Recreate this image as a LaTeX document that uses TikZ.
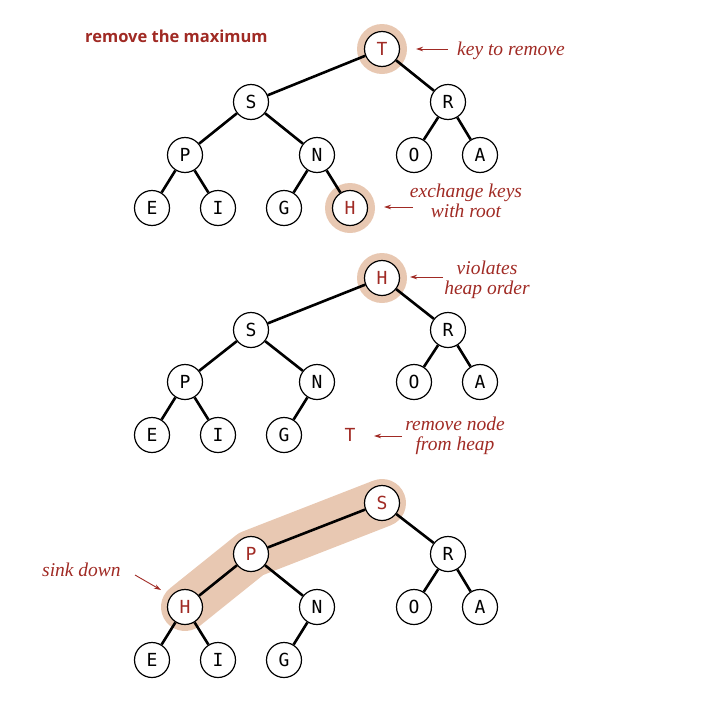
\documentclass[tikz,border=0pt]{standalone}
\usepackage{fontspec}
\newfontfamily\keyfont{DejaVu Sans Mono}
\newfontfamily\headfont{Open Sans}
\newfontfamily\notefont{Liberation Serif}
\usetikzlibrary{arrows.meta,backgrounds}
\definecolor{keyred}{RGB}{160,42,36}
\definecolor{halotan}{RGB}{232,200,178}
\tikzset{
  keynode/.style={circle,draw,line width=1.2pt,fill=white,minimum size=35pt,inner sep=0pt,
    font=\keyfont\fontsize{18}{18}\selectfont},
  hotkey/.style={keynode,text=keyred},
  edge/.style={line width=2.6pt},
  halo/.style={fill=halotan},
  band/.style={draw=halotan,line width=48pt,line cap=round,line join=round},
  note/.style={draw=keyred,line width=0.9pt,-{Stealth[length=7pt,width=4.5pt]}},
  notetext/.style={text=keyred,font=\notefont\itshape\fontsize{19.5}{20}\selectfont,inner sep=0pt,align=center},
}
\begin{document}
\begin{tikzpicture}[x=1pt,y=-1pt]
    \useasboundingbox (0,0) rectangle (702,718);

    \node[anchor=base west,inner sep=0pt,text=keyred,font=\headfont\bfseries\fontsize{16.5}{16.5}\selectfont]
        (title) at (85,42) {remove the maximum};

    % top tree
    \node[hotkey] (tT) at (382,49) {T};
        \node[keynode] (tS) at (251,102) {S};
        \node[keynode] (tR) at (448,102) {R};
            \node[keynode] (tP) at (185,155) {P};
            \node[keynode] (tN) at (317,155) {N};
            \node[keynode] (tO) at (414,155) {O};
            \node[keynode] (tA) at (480,155) {A};
                \node[keynode] (tE) at (152,208) {E};
                \node[keynode] (tI) at (218,208) {I};
                \node[keynode] (tG) at (284,208) {G};
                \node[hotkey] (tH) at (350,208) {H};

    \node[notetext,anchor=base west] (lkey) at (457,55) {key to remove};
        \coordinate (kA) at (448,49);
        \coordinate (kB) at (416,49);
    \node[notetext] (lswap) at (466,201) {exchange keys\\with root};
        \coordinate (sA) at (413,207);
        \coordinate (sB) at (384,207);

    % middle tree
    \node[hotkey] (mH) at (382,278) {H};
        \node[keynode] (mS) at (251,330) {S};
        \node[keynode] (mR) at (448,330) {R};
            \node[keynode] (mP) at (185,382) {P};
            \node[keynode] (mN) at (317,382) {N};
            \node[keynode] (mO) at (414,382) {O};
            \node[keynode] (mA) at (480,382) {A};
                \node[keynode] (mE) at (152,435) {E};
                \node[keynode] (mI) at (218,435) {I};
                \node[keynode] (mG) at (284,435) {G};
                \node[text=keyred,font=\keyfont\fontsize{18}{18}\selectfont] (mT) at (350,435) {T};

    \node[notetext] (lviol) at (487,280) {violates\\heap order};
        \coordinate (vA) at (443,277);
        \coordinate (vB) at (410,277);
    \node[notetext] (lrem) at (455,436) {remove node\\from heap};
        \coordinate (rA) at (402,436);
        \coordinate (rB) at (374,436);

    % bottom tree
    \node[hotkey] (bS) at (382,503) {S};
        \node[hotkey] (bP) at (251,554) {P};
        \node[keynode] (bR) at (448,554) {R};
            \node[hotkey] (bH) at (185,607) {H};
            \node[keynode] (bN) at (317,607) {N};
            \node[keynode] (bO) at (414,607) {O};
            \node[keynode] (bA) at (480,607) {A};
                \node[keynode] (bE) at (152,660) {E};
                \node[keynode] (bI) at (218,660) {I};
                \node[keynode] (bG) at (284,660) {G};

    \node[notetext,anchor=base west] (lsink) at (42,576) {sink down};
        \coordinate (dA) at (135,575);
        \coordinate (dB) at (161,590);

    \begin{scope}[on background layer]
        \fill[halo] (tT) circle (25);
        \fill[halo] (tH) circle (25);
        \fill[halo] (mH) circle (25);
        \draw[band] (bS.center) -- (bP.center) -- (bH.center);

        \draw[edge] (tT) -- (tS);  \draw[edge] (tT) -- (tR);
        \draw[edge] (tS) -- (tP);  \draw[edge] (tS) -- (tN);
        \draw[edge] (tR) -- (tO);  \draw[edge] (tR) -- (tA);
        \draw[edge] (tP) -- (tE);  \draw[edge] (tP) -- (tI);
        \draw[edge] (tN) -- (tG);  \draw[edge] (tN) -- (tH);

        \draw[edge] (mH) -- (mS);  \draw[edge] (mH) -- (mR);
        \draw[edge] (mS) -- (mP);  \draw[edge] (mS) -- (mN);
        \draw[edge] (mR) -- (mO);  \draw[edge] (mR) -- (mA);
        \draw[edge] (mP) -- (mE);  \draw[edge] (mP) -- (mI);
        \draw[edge] (mN) -- (mG);

        \draw[edge] (bS) -- (bP);  \draw[edge] (bS) -- (bR);
        \draw[edge] (bP) -- (bH);  \draw[edge] (bP) -- (bN);
        \draw[edge] (bR) -- (bO);  \draw[edge] (bR) -- (bA);
        \draw[edge] (bH) -- (bE);  \draw[edge] (bH) -- (bI);
        \draw[edge] (bN) -- (bG);
    \end{scope}

    \draw[note] (kA) -- (kB);
    \draw[note] (sA) -- (sB);
    \draw[note] (vA) -- (vB);
    \draw[note] (rA) -- (rB);
    \draw[note] (dA) -- (dB);

\end{tikzpicture}
\end{document}
